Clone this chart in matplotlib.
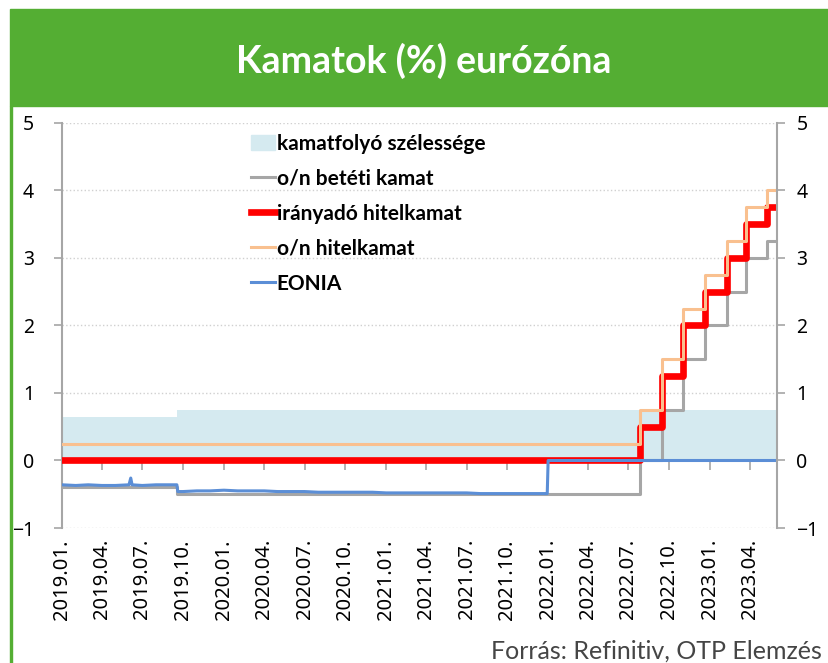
import numpy as np
import pandas as pd
import matplotlib.pyplot as plt
from matplotlib.patches import Rectangle, Patch
from matplotlib.lines import Line2D

plt.rcParams['font.family'] = ['Noto Sans', 'DejaVu Sans']

# ECB rate decisions (effective dates)
rate_dates = ['2019-01-01', '2019-09-18', '2022-07-27', '2022-09-14', '2022-11-02',
              '2022-12-21', '2023-02-08', '2023-03-22', '2023-05-10']
deposit = [-0.40, -0.50, 0.00, 0.75, 1.50, 2.00, 2.50, 3.00, 3.25]   # o/n betéti kamat
mro = [0.00, 0.00, 0.50, 1.25, 2.00, 2.50, 3.00, 3.50, 3.75]         # irányadó hitelkamat
mlf = [0.25, 0.25, 0.75, 1.50, 2.25, 2.75, 3.25, 3.75, 4.00]         # o/n hitelkamat
end_date = '2023-06-01'

# EONIA (approx. readings)
eonia_dates = ['2019-01-01', '2019-02-01', '2019-03-01', '2019-04-01', '2019-05-01',
               '2019-06-01', '2019-06-05', '2019-06-08', '2019-07-01', '2019-08-01',
               '2019-09-01', '2019-09-17', '2019-09-19', '2019-10-01', '2019-11-01',
               '2019-12-01', '2020-01-01', '2020-02-01', '2020-03-01', '2020-04-01',
               '2020-05-01', '2020-06-01', '2020-07-01', '2020-08-01', '2020-09-01',
               '2020-10-01', '2020-11-01', '2020-12-01', '2021-01-01', '2021-02-01',
               '2021-03-01', '2021-04-01', '2021-05-01', '2021-06-01', '2021-07-01',
               '2021-08-01', '2021-09-01', '2021-10-01', '2021-11-01', '2021-12-30',
               '2022-01-01', '2023-06-01']
eonia = [-0.36, -0.37, -0.36, -0.37, -0.37,
         -0.36, -0.26, -0.36, -0.37, -0.36,
         -0.36, -0.36, -0.46, -0.46, -0.45,
         -0.45, -0.44, -0.45, -0.45, -0.45,
         -0.46, -0.46, -0.46, -0.47, -0.47,
         -0.47, -0.47, -0.47, -0.48, -0.48,
         -0.48, -0.48, -0.48, -0.48, -0.48,
         -0.49, -0.49, -0.49, -0.49, -0.49,
         0.00, 0.00]

tick_labels = ['2019.01.', '2019.04.', '2019.07.', '2019.10.', '2020.01.', '2020.04.',
               '2020.07.', '2020.10.', '2021.01.', '2021.04.', '2021.07.', '2021.10.',
               '2022.01.', '2022.04.', '2022.07.', '2022.10.', '2023.01.', '2023.04.']

rd = pd.to_datetime(rate_dates + [end_date])
dep = np.array(deposit + [deposit[-1]])
ref = np.array(mro + [mro[-1]])
lend = np.array(mlf + [mlf[-1]])
width = lend - dep
ed = pd.to_datetime(eonia_dates)
tick_pos = pd.to_datetime([t[:4] + '-' + t[5:7] + '-01' for t in tick_labels])

fig = plt.figure(figsize=(8.29, 6.63), dpi=100)
green = '#54ae33'
fig.patches.append(Rectangle((10 / 829, 1 - 106 / 663), 1, 97 / 663, transform=fig.transFigure,
                             color=green, zorder=0))
fig.patches.append(Rectangle((10 / 829, 0), 2.5 / 829, 1 - 106 / 663, transform=fig.transFigure,
                             color=green, zorder=0))
fig.text(424 / 829, 1 - 61 / 663, 'Kamatok (%) eurózóna', color='white', fontsize=27,
         fontweight='bold', family='Lato', ha='center', va='center')

ax = fig.add_axes([62 / 829, 1 - 528 / 663, 715 / 829, 405 / 663])
grey_ax = '#a6a6a6'

ax.fill_between(rd, 0, width, step='post', color='#d5eaf0', lw=0, zorder=1)
ax.step(rd, dep, where='post', color='#a6a6a6', lw=2.2, zorder=3)
ax.step(rd, ref, where='post', color='#ff0000', lw=4.8, zorder=4)
ax.step(rd, lend, where='post', color='#f9c08f', lw=2.2, zorder=5)
ax.plot(ed, eonia, color='#5b8ed6', lw=2.2, zorder=6)

ax.set_ylim(-1, 5)
ax.set_xlim(pd.Timestamp('2019-01-01'), pd.Timestamp(end_date))
ax.set_yticks(range(-1, 6))
ax.grid(axis='y', color='#d0d0d0', ls=':', lw=1, zorder=0)
ax.set_xticks(tick_pos)
ax.set_xticklabels(tick_labels, rotation=90, fontsize=14.5, color='black')
ax.tick_params(axis='x', length=0, pad=8)
ax.tick_params(axis='y', labelsize=14, color=grey_ax, length=6, width=1.2, pad=14)
for s in ['top', 'bottom', 'right']:
    ax.spines[s].set_visible(False)
ax.spines['left'].set_color(grey_ax)
ax.spines['left'].set_linewidth(1.5)

ax2 = ax.twinx()
ax2.set_ylim(-1, 5)
ax2.set_yticks(range(-1, 6))
ax2.tick_params(axis='y', labelsize=14, color=grey_ax, length=6, width=1.2, pad=8)
for s in ['top', 'bottom', 'left']:
    ax2.spines[s].set_visible(False)
ax2.spines['right'].set_color(grey_ax)
ax2.spines['right'].set_linewidth(1.5)

# tick marks on the zero line
sec = ax.secondary_xaxis(1 / 6)
sec.set_xticks(tick_pos)
sec.tick_params(axis='x', direction='out', length=7, width=1.2, color=grey_ax, labelbottom=False)
sec.spines['bottom'].set_visible(False)

handles = [Patch(color='#d5eaf0'),
           Line2D([], [], color='#a6a6a6', lw=2.2),
           Line2D([], [], color='#ff0000', lw=4.8),
           Line2D([], [], color='#f9c08f', lw=2.2),
           Line2D([], [], color='#5b8ed6', lw=2.2)]
names = ['kamatfolyó szélessége', 'o/n betéti kamat', 'irányadó hitelkamat',
         'o/n hitelkamat', 'EONIA']
leg = ax2.legend(handles, names, loc='upper left', bbox_to_anchor=(232 / 829, 1 - 115 / 663),
                 bbox_transform=fig.transFigure, frameon=False, handlelength=1.15,
                 handletextpad=0.1, labelspacing=0.72,
                 prop={'weight': 'bold', 'size': 15, 'family': 'Lato'})

fig.text(822 / 829, 1 - 651 / 663, 'Forrás: Refinitiv, OTP Elemzés', color='#454545',
         fontsize=18, family='Lato', ha='right', va='center')

fig.savefig('out.png', dpi=100)
